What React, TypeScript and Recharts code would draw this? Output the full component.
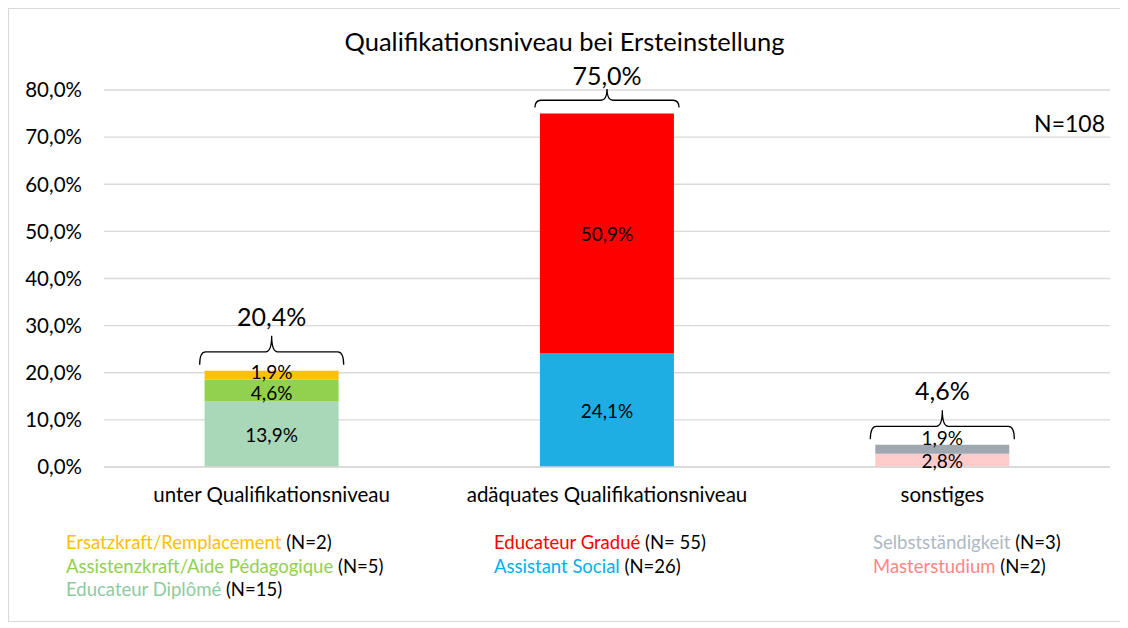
import { BarChart, Bar, XAxis, YAxis, CartesianGrid, LabelList, ReferenceDot } from 'recharts'

const categories = ['unter Qualifikationsniveau', 'adäquates Qualifikationsniveau', 'sonstiges']

const diplome = [13.9, 0, 0]
const assistenz = [4.6, 0, 0]
const ersatz = [1.9, 0, 0]
const social = [0, 24.1, 0]
const gradue = [0, 50.9, 0]
const master = [0, 0, 2.8]
const selbst = [0, 0, 1.9]
const totals = [20.4, 75.0, 4.6]
const yTicks = [0, 10, 20, 30, 40, 50, 60, 70, 80]

const data = categories.map((name, i) => ({
    name,
    diplome: diplome[i],
    assistenz: assistenz[i],
    ersatz: ersatz[i],
    social: social[i],
    gradue: gradue[i],
    master: master[i],
    selbst: selbst[i],
}))

// legend columns: [label, count, color]
const legendCols = [
    [
        ['Ersatzkraft/Remplacement', '(N=2)', '#FFC000'],
        ['Assistenzkraft/Aide Pédagogique', '(N=5)', '#92D050'],
        ['Educateur Diplômé', '(N=15)', '#8DCB9F'],
    ],
    [
        ['Educateur Gradué', '(N= 55)', '#FF0000'],
        ['Assistant Social', '(N=26)', '#00B0F0'],
    ],
    [
        ['Selbstständigkeit', '(N=3)', '#ADB9C4'],
        ['Masterstudium', '(N=2)', '#FF8585'],
    ],
]
const legendLeft = [57, 485, 864]

const pct = (v: number) => `${v.toFixed(1).replace('.', ',')}%`

// label centred in segment, shifted by dy
const segLabel = (dy = 0) => (props: any) => {
    const { x, y, width, height, value } = props
    if (!value) return null
    return (
        <text x={x + width / 2} y={y + height / 2 + dy} textAnchor="middle" dominantBaseline="central" fontSize={19} fill="#000">
            {pct(value)}
        </text>
    )
}

const topLabel = (props: any) => {
    const { x, y, width, value } = props
    if (!value) return null
    return (
        <text x={x + width / 2} y={y - 7} textAnchor="middle" dominantBaseline="central" fontSize={19} fill="#000">
            {pct(value)}
        </text>
    )
}

// curly brace above a stack + total label; squeezed when close to the title
function Brace({ cx, cy, value }: { cx: number; cy: number; value: number }) {
    const k = Math.min(1, (cy - 66) / 55)
    const w = 72
    const h = cy - 19 * k
    const tip = cy - 35 * k
    const end = cy - 6
    const d = `M${cx - w},${end} Q${cx - w},${h} ${cx - w + 6},${h} L${cx - 6},${h} Q${cx},${h} ${cx},${tip}
      Q${cx},${h} ${cx + 6},${h} L${cx + w - 6},${h} Q${cx + w},${h} ${cx + w},${end}`
    return (
        <g>
            <path d={d} fill="none" stroke="#000" strokeWidth={1.3} />
            <text x={cx} y={cy - 55 * k} textAnchor="middle" dominantBaseline="central" fontSize={25} fill="#000">
                {pct(value)}
            </text>
        </g>
    )
}

export default function App() {
    return (
        <div
            style={{
                position: 'relative',
                width: 1111,
                height: 612,
                border: '1px solid #D9D9D9',
                fontFamily: 'Lato, "Open Sans", sans-serif',
                background: '#fff',
            }}
        >
            <div style={{ position: 'absolute', top: 17, left: 0, width: '100%', textAlign: 'center', fontSize: 25.5, lineHeight: '30px' }}>
                Qualifikationsniveau bei Ersteinstellung
            </div>
            <div style={{ position: 'absolute', top: 100, right: 15, fontSize: 23, lineHeight: '28px' }}>N=108</div>

            <BarChart width={1111} height={500} data={data} margin={{ top: 81, right: 10, left: 0, bottom: 12 }} barCategoryGap="30%">
                <CartesianGrid vertical={false} stroke="#D9D9D9" strokeWidth={1.3} />
                <XAxis
                    dataKey="name"
                    axisLine={{ stroke: '#D9D9D9', strokeWidth: 1.3 }}
                    tickLine={false}
                    tickMargin={14}
                    height={30}
                    tick={{ fill: '#000', fontSize: 20.5 }}
                />
                <YAxis
                    domain={[0, 80]}
                    ticks={yTicks}
                    width={95}
                    axisLine={false}
                    tickLine={false}
                    tickMargin={16}
                    tickFormatter={pct}
                    tick={{ fill: '#000', fontSize: 20.5 }}
                />
                <Bar dataKey="diplome" stackId="a" fill="#A9D8B9" isAnimationActive={false}>
                    <LabelList dataKey="diplome" content={segLabel()} />
                </Bar>
                <Bar dataKey="assistenz" stackId="a" fill="#92D050" isAnimationActive={false}>
                    <LabelList dataKey="assistenz" content={segLabel(2)} />
                </Bar>
                <Bar dataKey="ersatz" stackId="a" fill="#FFC000" isAnimationActive={false}>
                    <LabelList dataKey="ersatz" content={segLabel(-4)} />
                </Bar>
                <Bar dataKey="social" stackId="a" fill="#1FAEE3" isAnimationActive={false}>
                    <LabelList dataKey="social" content={segLabel()} />
                </Bar>
                <Bar dataKey="gradue" stackId="a" fill="#FF0000" isAnimationActive={false}>
                    <LabelList dataKey="gradue" content={segLabel()} />
                </Bar>
                <Bar dataKey="master" stackId="a" fill="#FFCCCC" isAnimationActive={false}>
                    <LabelList dataKey="master" content={segLabel()} />
                </Bar>
                <Bar dataKey="selbst" stackId="a" fill="#9FA8B0" isAnimationActive={false}>
                    <LabelList dataKey="selbst" content={topLabel} />
                </Bar>
                {totals.map((t, i) => (
                    <ReferenceDot
                        key={i}
                        x={categories[i]}
                        y={t}
                        r={0}
                        shape={(p: any) => <Brace cx={p.cx} cy={p.cy} value={t} />}
                    />
                ))}
            </BarChart>

            {legendCols.map((col, ci) => (
                <div key={ci} style={{ position: 'absolute', left: legendLeft[ci], top: 522, fontSize: 18.5, lineHeight: '23.5px' }}>
                    {col.map(([label, n, color]) => (
                        <div key={label}>
                            <span style={{ color }}>{label}</span> <span style={{ color: '#000' }}>{n}</span>
                        </div>
                    ))}
                </div>
            ))}
        </div>
    )
}
